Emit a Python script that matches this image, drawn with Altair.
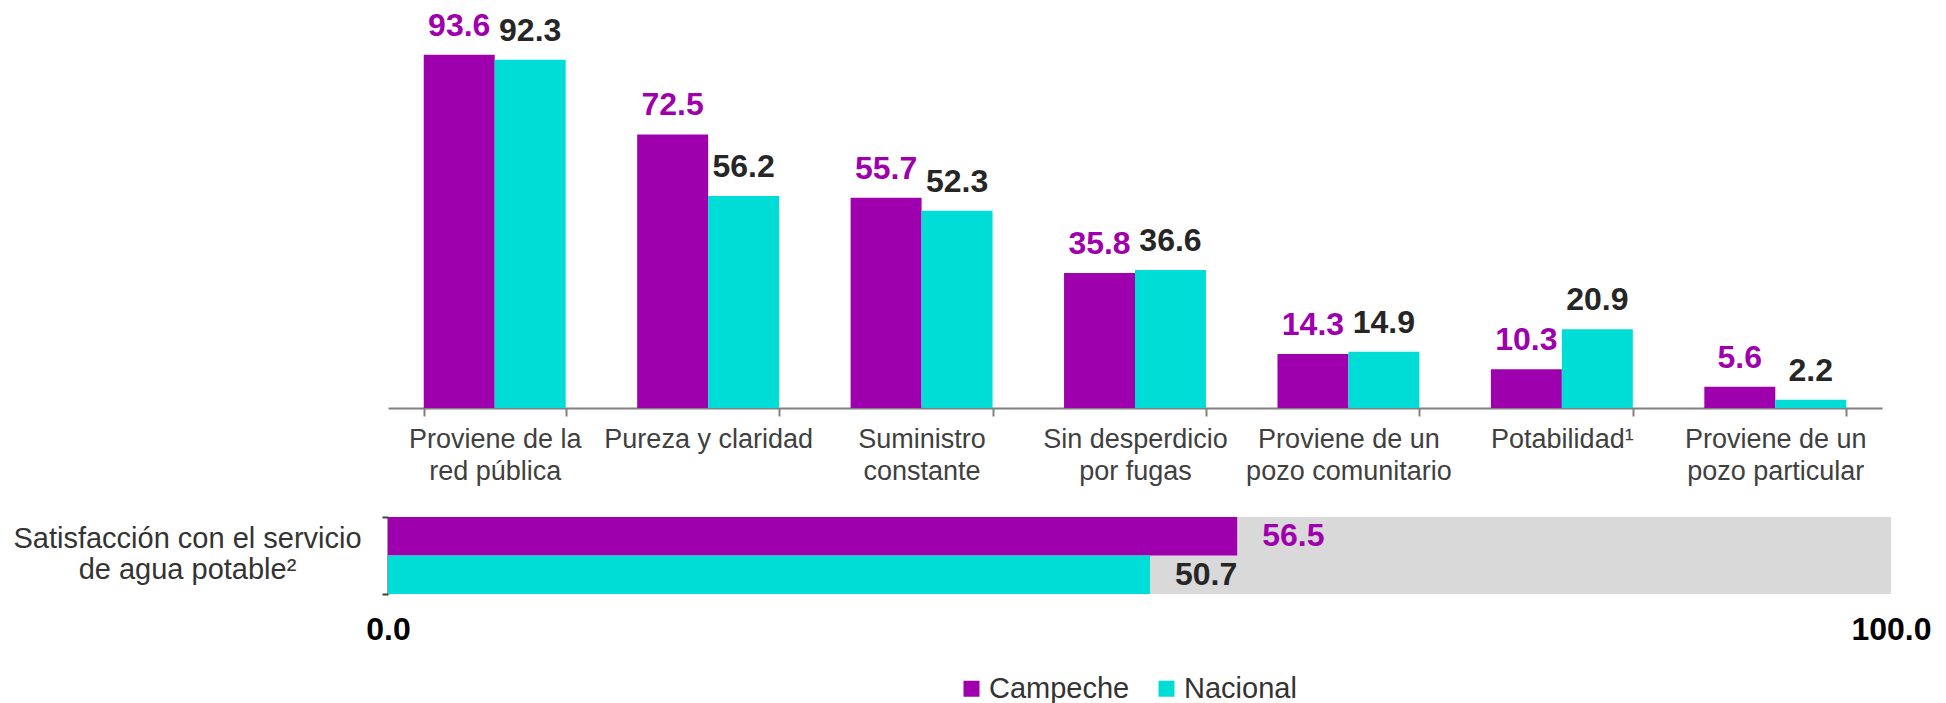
import altair as alt
import pandas as pd

FONT = "Liberation Sans"

categories = [
    "Proviene de la\nred pública",
    "Pureza y claridad",
    "Suministro\nconstante",
    "Sin desperdicio\npor fugas",
    "Proviene de un\npozo comunitario",
    "Potabilidad¹",
    "Proviene de un\npozo particular",
]
campeche = [93.6, 72.5, 55.7, 35.8, 14.3, 10.3, 5.6]
nacional = [92.3, 56.2, 52.3, 36.6, 14.9, 20.9, 2.2]

series = ["Campeche", "Nacional"]
bar_colors = ["#9F00AD", "#00DDD6"]
label_colors = ["#9F00AD", "#262626"]

satisf_category = "Satisfacción con el servicio\nde agua potable²"
satisf_values = [56.5, 50.7]
satisf_max = 100.0
satisf_ticks = [0, 100]

# ---- tables built from the arrays above ----
rows = []
for c, a, b in zip(categories, campeche, nacional):
    rows.append({"cat": c, "series": series[0], "value": a})
    rows.append({"cat": c, "series": series[1], "value": b})
top_df = pd.DataFrame(rows)

bot_df = pd.DataFrame({"cat": [satisf_category] * 2, "series": series, "value": satisf_values})
bg_df = pd.DataFrame({"cat": [satisf_category], "value": [satisf_max]})

legend = alt.Legend(
    orient="none", legendX=569, legendY=666, direction="horizontal", title=None,
    symbolType="square", symbolSize=256, symbolStrokeWidth=0,
    labelFontSize=29, labelFont=FONT, labelColor="#333333", labelOffset=3,
    columnPadding=22, padding=0,
)
color_enc = alt.Color("series:N", scale=alt.Scale(domain=series, range=bar_colors), legend=legend)
label_color = alt.condition(alt.datum.series == series[0], alt.value(label_colors[0]), alt.value(label_colors[1]))

# ---- top grouped column chart ----
x_enc = alt.X(
    "cat:N", sort=categories,
    scale=alt.Scale(paddingInner=0.335, paddingOuter=0.1675),
    axis=alt.Axis(
        title=None, labelAngle=0, labelExpr="split(datum.label, '\\n')",
        labelFontSize=27, labelFont=FONT, labelColor="#404040", labelLimit=0,
        labelLineHeight=32, labelPadding=10, labelBaseline="top", labelOverlap=False,
        tickBand="extent", tickSize=8, tickWidth=2, tickColor="#808080",
        domainColor="#808080", domainWidth=2, grid=False,
    ),
)
xoff = alt.XOffset("series:N", sort=series, scale=alt.Scale(paddingInner=0, paddingOuter=0))
y_enc = alt.Y("value:Q", scale=alt.Scale(domain=[0, 106], nice=False), axis=None)

top_base = alt.Chart(top_df)
top_bars = top_base.mark_bar().encode(x=x_enc, xOffset=xoff, y=y_enc, color=color_enc)
top_text = top_base.mark_text(
    fontSize=32, fontWeight="bold", font=FONT, baseline="alphabetic", dy=-19
).encode(x=x_enc, xOffset=xoff, y=y_enc, text=alt.Text("value:Q", format=".1f"), color=label_color)
top = alt.layer(top_bars, top_text).properties(width=1494, height=400)

# ---- bottom satisfaction bar ----
bx = alt.X(
    "value:Q", scale=alt.Scale(domain=[0, satisf_max], nice=False),
    axis=alt.Axis(
        title=None, values=satisf_ticks, format=".1f", domain=False, ticks=False, grid=False,
        labelFontSize=32, labelFontWeight="bold", labelFont=FONT, labelColor="#000000",
        labelPadding=20, labelFlush=False,
    ),
)
by = alt.Y(
    "cat:N", scale=alt.Scale(paddingInner=0, paddingOuter=0),
    axis=alt.Axis(
        title=None, labelExpr="split(datum.label, '\\n')", labelAlign="center",
        labelBaseline="middle", labelFontSize=29, labelFont=FONT, labelColor="#333333",
        labelLineHeight=31, labelLimit=0, labelPadding=195, labelOffset=-17,
        tickSize=6, tickWidth=2, tickBand="extent", tickColor="#404040",
        domainColor="#404040", domainWidth=2, grid=False,
    ),
)
yoff = alt.YOffset("series:N", sort=series, scale=alt.Scale(paddingInner=0, paddingOuter=0))

bg = alt.Chart(bg_df).mark_bar(color="#D9D9D9").encode(x=bx, y=by)
bbars = alt.Chart(bot_df).mark_bar().encode(x=bx, y=by, yOffset=yoff, color=color_enc)
btext = alt.Chart(bot_df).mark_text(
    fontSize=32, fontWeight="bold", font=FONT, align="left", baseline="middle", dx=25
).encode(x=bx, y=by, yOffset=yoff, text=alt.Text("value:Q", format=".1f"), color=label_color)
bottom = alt.layer(bg, bbars, btext).properties(width=1503, height=77)

chart = alt.vconcat(top, bottom, spacing=19).properties(
    padding={"left": 4, "top": 0, "right": 0, "bottom": 0}
).configure(font=FONT).configure_view(stroke=None)

chart.save("out.html", embed_options={"renderer": "svg", "actions": False})
